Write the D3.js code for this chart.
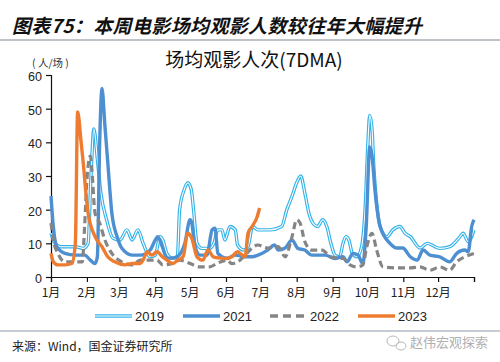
<!DOCTYPE html>
<html>
<head>
<meta charset="utf-8">
<script src="https://cdn.jsdelivr.net/npm/d3@7"></script>
<style>
  body { margin: 0; background: #fff; }
  svg { display: block; }
</style>
</head>
<body>
<svg id="chart" width="500" height="362"></svg>
<script>
// day-of-year, value (人/场, 7DMA)
const s2019 = [[0,13],[3.5,10],[8,9],[21,9],[28,8.5],[32,10],[34.5,30],[37,44],[40,35],[43,25],[48,17],[53.5,11.5],[59.5,11],[65.5,14],[70,11],[75,14],[79.5,10],[85.5,6],[90,6.5],[94,12],[96.5,11],[100,7],[104.5,5.6],[109,6],[111,20],[115,26],[118,28],[121,26],[123,20],[126,10],[130,8.5],[137,8.5],[140.5,10],[144,14],[147.5,14],[150,11],[154.5,15],[159,14],[161,9.5],[166.5,8],[170,9],[174,15],[178.5,14],[189,14],[199,15],[203.5,20],[208,24],[212,28],[215.5,30],[219,25],[222.5,19],[226,16],[230,15],[234.5,17],[238,15],[241.5,10],[245,6.5],[249,6],[252,10],[254.5,12],[257,11],[260,7],[264,6],[268,9],[271,20],[273.5,40],[275,48],[277,44],[278.5,33],[281,22],[284,15],[290,12],[295,14],[301,15],[305.5,13],[310,12],[318.5,8.6],[324.5,10],[335.5,8.5],[344,9],[353,12],[355.5,13],[360,10.5],[365,14]];
const s2021 = [[0,24],[2,15],[5,9],[12,7],[21,6.5],[29,6.5],[34,5],[38,4],[40,6],[42,40],[44,56],[46.5,45],[49,34],[52.5,19],[57,12],[61,8.6],[70,6.5],[77,6.5],[85.5,8],[90,11],[92,12],[96,9],[100,5.6],[105,5.6],[109,6],[115.5,10],[120,17],[121.5,16],[124,9.5],[128.5,6.5],[134.5,6.5],[139,14],[141.5,14.5],[144,7],[152,5.6],[159,6.5],[167.5,6],[173.5,6],[178.5,6.5],[187,8],[193,9.5],[196,8],[202,8.6],[208,11],[213,8.5],[219,8],[225,6.5],[236.5,6.5],[245,5.5],[252,6],[255.5,4.5],[260.5,7],[265,6.5],[269,4],[272,15],[275,38.6],[277,36],[279.5,26],[284,15],[292.5,10],[298.5,8.6],[303.5,8.6],[310,6],[316,5],[321,8],[327,6.5],[335.5,6],[344,4.5],[350,7],[357,8],[360,7.5],[363,15],[365,17]];
const s2022 = [[0,16],[2,11],[6,7],[12,4.5],[23,4.5],[27,4.5],[29,15],[31,29],[34,36],[35,33],[38,19],[42,16],[46.5,11],[52.5,7],[61,4.5],[70,3.6],[77,5],[85.5,5],[91.5,5],[96.5,3.6],[105,4],[111,5],[120,4],[128.5,3],[137,3],[143,4],[152,5],[156,4],[163,5],[167.5,6.5],[173.5,8.6],[178.5,9.5],[187,8.6],[196,9],[202,6],[208,12],[212,17],[215,16],[219,10.5],[225,8],[234,8],[241,6],[247,5.6],[252,5.5],[258,3.6],[264,3],[269,3.5],[272.5,9],[277,13],[281,8],[286.5,3],[298.5,2.7],[310,2.7],[318.5,3],[327,2],[335.5,3],[344,2],[350,4.5],[357,6],[365,7]];
const s2023 = [[0,7],[2,4.5],[6,3.6],[12,3.6],[18,4],[21,10],[23,49],[26,40],[27.5,35],[32,19],[38,12],[44,9],[49,6],[55,4.5],[64,3.6],[70,4],[77,4],[79.5,5],[83,7.5],[87,6.5],[91.5,7.5],[96,6],[100,5],[105,4],[109.5,5],[114,6],[118,13],[121.5,11.5],[126,6],[131,5],[135.5,8],[140,6],[146,5.6],[152,5.5],[156,6],[161,7.5],[165,6.5],[167.5,6],[170,13],[173.5,15],[178,18],[180,20.5]];

const monthStarts = [0,31,59,90,120,151,181,212,243,273,304,334,365];
const monthLabels = ["1月","2月","3月","4月","5月","6月","7月","8月","9月","10月","11月","12月"];
const yTicks = [0,10,20,30,40,50,60];
const seriesNames = ["2019","2021","2022","2023"];

const svg = d3.select("#chart");
const x = d3.scaleLinear().domain([0, 365]).range([51, 474]);
const y = d3.scaleLinear().domain([0, 60]).range([277, 75]);

// header
svg.append("text")
  .attr("x", 12).attr("y", 33)
  .attr("font-family", "Noto Sans CJK SC")
  .attr("font-weight", "bold")
  .attr("font-style", "italic")
  .attr("font-size", 19)
  .attr("textLength", 410)
  .attr("fill", "#111")
  .text("图表75：本周电影场均观影人数较往年大幅提升");
svg.append("line").attr("x1", 0).attr("x2", 500).attr("y1", 40).attr("y2", 40)
  .attr("stroke", "#7f8790").attr("stroke-width", 1);

svg.append("text")
  .attr("x", 254).attr("y", 67)
  .attr("text-anchor", "middle")
  .attr("font-family", "Noto Sans CJK SC, Liberation Sans")
  .attr("font-size", 19)
  .attr("fill", "#111")
  .text("场均观影人次(7DMA)");

svg.append("text")
  .attr("x", 32).attr("y", 67)
  .attr("font-family", "Noto Sans CJK SC")
  .attr("font-size", 10.5)
  .attr("fill", "#333")
  .text("( 人/场 )");

// axes
const yAxis = svg.append("g").attr("transform", "translate(51,0)")
  .call(d3.axisLeft(y).tickValues(yTicks).tickSize(5).tickPadding(4));
const xAxis = svg.append("g").attr("transform", "translate(0,277)")
  .call(d3.axisBottom(x).tickValues(monthStarts).tickSize(5).tickFormat(() => ""));
[yAxis, xAxis].forEach(g => {
  g.select(".domain").attr("stroke", "#111").attr("stroke-width", 1.2);
  g.selectAll(".tick line").attr("stroke", "#111").attr("stroke-width", 1.2);
});
yAxis.selectAll("text").attr("font-family", "Liberation Sans").attr("font-size", 12.5).attr("fill", "#222")
  .attr("dy", "0.45em");

svg.append("g").selectAll("text").data(monthLabels).join("text")
  .attr("x", (d, i) => x(monthStarts[i]))
  .attr("y", 297)
  .attr("text-anchor", "middle")
  .attr("font-family", "Noto Sans CJK SC")
  .attr("font-size", 12)
  .attr("fill", "#222")
  .text(d => d);

// lines
const line = d3.line().x(d => x(d[0])).y(d => y(d[1])).curve(d3.curveMonotoneX);

svg.append("path").datum(s2019).attr("d", line)
  .attr("fill", "none").attr("stroke", "#34b3e8").attr("stroke-width", 3.4).attr("stroke-linejoin", "round");
svg.append("path").datum(s2019).attr("d", line)
  .attr("fill", "none").attr("stroke", "#fff").attr("stroke-width", 1.1).attr("stroke-linejoin", "round");
svg.append("path").datum(s2021).attr("d", line)
  .attr("fill", "none").attr("stroke", "#4e8fd2").attr("stroke-width", 3.4).attr("stroke-linejoin", "round");
svg.append("path").datum(s2022).attr("d", line)
  .attr("fill", "none").attr("stroke", "#858585").attr("stroke-width", 3.2).attr("stroke-dasharray", "7,4");
svg.append("path").datum(s2023).attr("d", line)
  .attr("fill", "none").attr("stroke", "#ee7c30").attr("stroke-width", 3.4).attr("stroke-linejoin", "round");

// legend
const legX = [95, 183, 270, 358];
const leg = svg.append("g").selectAll("g").data(seriesNames).join("g")
  .attr("transform", (d, i) => `translate(${legX[i]},316)`);
leg.append("line").attr("x1", 0).attr("x2", 37)
  .attr("stroke", (d, i) => ["#34b3e8", "#4e8fd2", "#858585", "#ee7c30"][i])
  .attr("stroke-width", 3.4)
  .attr("stroke-dasharray", (d, i) => i === 2 ? "8,5" : null);
leg.filter((d, i) => i === 0).append("line").attr("x1", 0).attr("x2", 37)
  .attr("stroke", "#fff").attr("stroke-width", 1.1);
leg.append("text").attr("x", 40).attr("y", 5)
  .attr("font-family", "Liberation Sans").attr("font-size", 13).attr("fill", "#222")
  .text(d => d);

// footer
svg.append("line").attr("x1", 0).attr("x2", 500).attr("y1", 331).attr("y2", 331)
  .attr("stroke", "#8a99a8").attr("stroke-width", 1);
svg.append("text").attr("x", 12).attr("y", 351)
  .attr("font-family", "Noto Sans CJK SC").attr("font-size", 12).attr("fill", "#222")
  .text("来源：Wind，国金证券研究所");
const wm = svg.append("g").attr("fill", "none").attr("stroke", "#b8b8b8").attr("stroke-width", 1);
wm.append("ellipse").attr("cx", 393).attr("cy", 341).attr("rx", 6).attr("ry", 5);
wm.append("ellipse").attr("cx", 401).attr("cy", 346).attr("rx", 5).attr("ry", 4);
svg.append("text").attr("x", 410).attr("y", 347)
  .attr("font-family", "Noto Sans CJK SC").attr("font-size", 13).attr("fill", "#b0b0b0")
  .text("赵伟宏观探索");
</script>
</body>
</html>
